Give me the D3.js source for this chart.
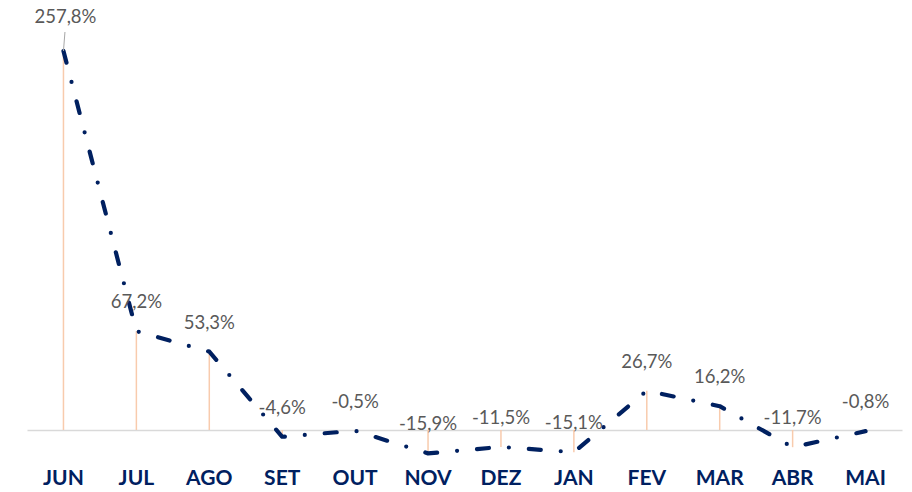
<!DOCTYPE html>
<html>
<head>
    <meta charset="utf-8">
    <title>Variação mensal</title>
    <script src="https://d3js.org/d3.v7.min.js"></script>
    <style>
        body { margin: 0; background: #fff; }
        svg { display: block; }
        .stem { stroke: #F8CBAD; stroke-width: 1.5px; }
        .serie {
            fill: none;
            stroke: #002060;
            stroke-width: 4.2px;
            stroke-linecap: round;
            stroke-linejoin: round;
            stroke-dasharray: 12 20 0 20;
        }
        .rotulo {
            fill: #595959;
            font-family: Lato, "Open Sans", sans-serif;
            font-size: 18.5px;
        }
        .eixo text {
            fill: #002060;
            font-family: Lato, "Open Sans", sans-serif;
            font-size: 21px;
            font-weight: bold;
        }
        .eixo path { stroke: #D9D9D9; stroke-width: 1.5px; }
    </style>
</head>
<body>
    <svg></svg>
    <script>
        // Dados
        const meses = ["JUN", "JUL", "AGO", "SET", "OUT", "NOV", "DEZ", "JAN", "FEV", "MAR", "ABR", "MAI"];
        const variacao = [257.8, 67.2, 53.3, -4.6, -0.5, -15.9, -11.5, -15.1, 26.7, 16.2, -11.7, -0.8];

        const width = 912;
        const height = 492;

        const svg = d3.select("svg")
            .attr("width", width)
            .attr("height", height);

        const dados = meses.map((m, i) => ({ mes: m, valor: variacao[i] }));

        // Escalas
        const x = d3.scaleBand()
            .domain(meses)
            .range([27, 902]);

        const y = d3.scaleLinear()
            .domain([0, d3.max(variacao)])
            .range([430, 51]);

        const cx = d => x(d.mes) + x.bandwidth() / 2;
        const fmt = v => d3.format(".1f")(v).replace(".", ",").replace("\u2212", "-") + "%";

        // Eixo (linha do zero + meses)
        const eixo = svg.append("g")
            .attr("class", "eixo")
            .attr("transform", `translate(0,${y(0)})`)
            .call(d3.axisBottom(x).tickSize(0).tickPadding(40));
        eixo.selectAll("text").attr("dy", "0.71em");

        // Hastes
        svg.append("g")
            .selectAll("line")
            .data(dados)
            .join("line")
            .attr("class", "stem")
            .attr("x1", cx)
            .attr("x2", cx)
            .attr("y1", y(0))
            .attr("y2", d => y(d.valor));

        // Linha da série
        const linha = d3.line()
            .x(cx)
            .y(d => y(d.valor));

        svg.append("path")
            .datum(dados)
            .attr("class", "serie")
            .attr("d", linha);

        // Rótulos
        const maximo = d3.max(variacao);
        svg.append("g")
            .selectAll("text")
            .data(dados)
            .join("text")
            .attr("class", "rotulo")
            .attr("text-anchor", "middle")
            .attr("x", d => d.valor === maximo ? cx(d) + 2 : cx(d))
            .attr("y", d => y(d.valor) - (d.valor === maximo ? 28 : 23))
            .text(d => fmt(d.valor));

        // Linha de chamada do rótulo máximo
        const dMax = dados.find(d => d.valor === maximo);
        svg.append("line")
            .attr("x1", cx(dMax) + 1.5)
            .attr("y1", y(dMax.valor) - 19)
            .attr("x2", cx(dMax))
            .attr("y2", y(dMax.valor))
            .attr("stroke", "#A6A6A6")
            .attr("stroke-width", 1);
    </script>
</body>
</html>
